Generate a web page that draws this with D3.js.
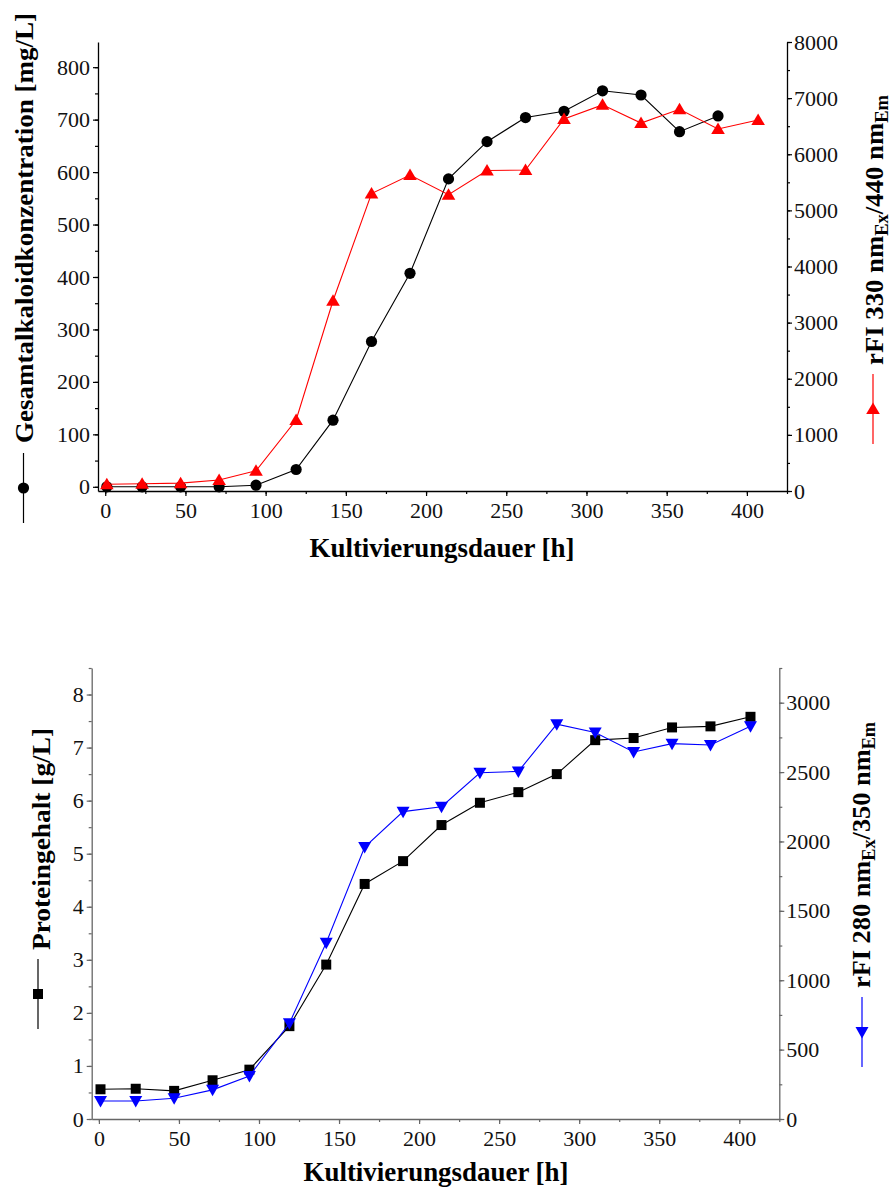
<!DOCTYPE html>
<html>
<head>
<meta charset="utf-8">
<script src="https://cdn.jsdelivr.net/npm/d3@7"></script>
<style>
  html, body { margin: 0; padding: 0; background: #fff; }
  svg { display: block; }
  text { font-family: "Liberation Serif", "Times New Roman", serif; }
</style>
</head>
<body>
<svg id="chart" width="892" height="1189"></svg>
<script>
// ---------- data ----------
const hours = [1, 23, 47, 71, 94, 119, 142, 166, 190, 214, 238, 262, 286, 310, 334, 358, 382, 407];
const alkaloid = [0, 0, 0, 0, 3, 33, 127, 277, 407, 587, 658, 704, 716, 755, 747, 677, 707]; // mg/L
const rfi330 = [120, 130, 140, 195, 360, 1265, 3390, 5300, 5630, 5280, 5710, 5720, 6630, 6880, 6555, 6800, 6450, 6610];
const protein = [0.56, 0.57, 0.53, 0.73, 0.93, 1.75, 2.91, 4.43, 4.86, 5.54, 5.96, 6.16, 6.50, 7.14, 7.18, 7.38, 7.40, 7.58]; // g/L
const rfi280 = [130, 130, 150, 210, 310, 690, 1270, 1960, 2215, 2250, 2495, 2505, 2845, 2785, 2645, 2705, 2695, 2830];

const xTicks = [0, 50, 100, 150, 200, 250, 300, 350, 400];
const alkTicks = [0, 100, 200, 300, 400, 500, 600, 700, 800];
const rfi330Ticks = [0, 1000, 2000, 3000, 4000, 5000, 6000, 7000, 8000];
const protTicks = [0, 1, 2, 3, 4, 5, 6, 7, 8];
const rfi280Ticks = [0, 500, 1000, 1500, 2000, 2500, 3000];

const xTitle = "Kultivierungsdauer [h]";
const alkTitle = "Gesamtalkaloidkonzentration [mg/L]";
const protTitle = "Proteingehalt [g/L]";

const svg = d3.select("#chart");
const fmt = d3.format("d");

function styleAxis(g, color) {
  g.attr("font-family", null).attr("font-size", null);
  g.selectAll("path.domain").attr("stroke", color).attr("stroke-width", 1.3);
  g.selectAll("line").attr("stroke", color).attr("stroke-width", 1.2);
  g.selectAll("text").attr("fill", "#111").style("font-family", '"Liberation Serif", serif').style("font-size", "22px");
}

function minorTicks(step, domain) {
  const out = [];
  const start = Math.ceil(domain[0] / step) * step;
  for (let v = start; v <= domain[1] + 1e-9; v += step) out.push(+v.toFixed(6));
  return out;
}

function drawPanel(cfg) {
  const x = d3.scaleLinear().domain(cfg.xDomain).range([cfg.left, cfg.right]);
  const yL = d3.scaleLinear().domain(cfg.yLDomain).range([cfg.bottom, cfg.top]);
  const yR = d3.scaleLinear().domain(cfg.yRDomain).range([cfg.bottom, cfg.top]);
  const g = svg.append("g");

  // minor ticks
  g.append("g").attr("transform", `translate(0,${cfg.bottom})`)
    .call(d3.axisBottom(x).tickValues(minorTicks(25, cfg.xDomain)).tickSize(3).tickSizeOuter(0).tickFormat(""))
    .call(a => { styleAxis(a, cfg.axisColor); a.select("path.domain").remove(); });
  g.append("g").attr("transform", `translate(${cfg.left},0)`)
    .call(d3.axisLeft(yL).tickValues(minorTicks(cfg.yLMinor, [0, cfg.yLDomain[1]])).tickSize(3).tickSizeOuter(0).tickFormat(""))
    .call(a => { styleAxis(a, cfg.axisColor); a.select("path.domain").remove(); });
  g.append("g").attr("transform", `translate(${cfg.right},0)`)
    .call(d3.axisRight(yR).tickValues(minorTicks(cfg.yRMinor, [0, cfg.yRDomain[1]])).tickSize(3).tickSizeOuter(0).tickFormat(""))
    .call(a => { styleAxis(a, cfg.axisColor); a.select("path.domain").remove(); });

  // major axes
  g.append("g").attr("transform", `translate(0,${cfg.bottom})`)
    .call(d3.axisBottom(x).tickValues(xTicks).tickFormat(fmt).tickSize(5).tickSizeOuter(0).tickPadding(cfg.xPad))
    .call(a => styleAxis(a, cfg.axisColor));
  g.append("g").attr("transform", `translate(${cfg.left},0)`)
    .call(d3.axisLeft(yL).tickValues(cfg.yLTicks).tickFormat(fmt).tickSize(5).tickSizeOuter(0).tickPadding(3))
    .call(a => styleAxis(a, cfg.axisColor));
  g.append("g").attr("transform", `translate(${cfg.right},0)`)
    .call(d3.axisRight(yR).tickValues(cfg.yRTicks).tickFormat(fmt).tickSize(5).tickSizeOuter(0).tickPadding(2))
    .call(a => styleAxis(a, cfg.axisColor));

  // series
  cfg.series.forEach(s => {
    const pts = s.values.map((v, i) => [x(hours[i]), s.axis === "L" ? yL(v) : yR(v)]);
    g.append("path").attr("d", d3.line()(pts)).attr("fill", "none")
      .attr("stroke", s.color).attr("stroke-width", 1.1);
    g.selectAll(null).data(pts).join("path")
      .attr("d", d => s.marker(d[0], d[1])).attr("fill", s.color);
  });

  // x title
  g.append("text").attr("x", cfg.xTitleX).attr("y", cfg.xTitleY).attr("text-anchor", "middle")
    .attr("textLength", cfg.xTitleLen).attr("lengthAdjust", "spacingAndGlyphs")
    .style("font-size", "28px").style("font-weight", "bold").attr("fill", "#000").text(xTitle);

  // left title (rotated) + legend symbol
  g.append("text").attr("transform", `translate(${cfg.lTitleX},${cfg.lTitleY}) rotate(-90)`)
    .attr("text-anchor", "middle").attr("textLength", cfg.lTitleLen).attr("lengthAdjust", "spacingAndGlyphs")
    .style("font-size", "26px").style("font-weight", "bold").attr("fill", "#000").text(cfg.lTitle);
  g.append("line").attr("x1", cfg.lLegX).attr("x2", cfg.lLegX).attr("y1", cfg.lLegY - 35).attr("y2", cfg.lLegY + 35)
    .attr("stroke", "#000").attr("stroke-width", 1.2);
  g.append("path").attr("d", cfg.series[0].marker(cfg.lLegX, cfg.lLegY)).attr("fill", "#000");

  // right title (rotated with subscripts) + legend symbol
  const rt = g.append("text").attr("transform", `translate(${cfg.rTitleX},${cfg.rTitleY}) rotate(-90)`)
    .attr("text-anchor", "middle").attr("textLength", cfg.rTitleLen).attr("lengthAdjust", "spacingAndGlyphs")
    .style("font-size", "26px").style("font-weight", "bold").attr("fill", "#000");
  rt.append("tspan").text(cfg.rTitleParts[0]);
  rt.append("tspan").attr("baseline-shift", "-25%").style("font-size", "18px").text("Ex");
  rt.append("tspan").text(cfg.rTitleParts[1]);
  rt.append("tspan").attr("baseline-shift", "-25%").style("font-size", "18px").text("Em");
  g.append("line").attr("x1", cfg.rLegX).attr("x2", cfg.rLegX).attr("y1", cfg.rLegY - 35).attr("y2", cfg.rLegY + 35)
    .attr("stroke", cfg.series[1].color).attr("stroke-width", 1.2);
  g.append("path").attr("d", cfg.series[1].marker(cfg.rLegX, cfg.rLegY)).attr("fill", cfg.series[1].color);
}

const circle = (x, y) => `M${x + 5.6},${y}A5.6,5.6 0 1,1 ${x - 5.6},${y}A5.6,5.6 0 1,1 ${x + 5.6},${y}Z`;
const triUp = (x, y) => `M${x - 6.8},${y + 5}L${x + 6.8},${y + 5}L${x},${y - 6.5}Z`;
const square = (x, y) => `M${x - 5},${y - 5}h10v10h-10Z`;
const triDown = (x, y) => `M${x - 6.5},${y - 5}L${x + 6.5},${y - 5}L${x},${y + 6.5}Z`;

drawPanel({
  xDomain: [-4.5, 425], left: 98, right: 787, top: 42, bottom: 491,
  yLDomain: [-8, 848], yRDomain: [0, 8000], yLTicks: alkTicks, yRTicks: rfi330Ticks,
  yLMinor: 50, yRMinor: 500, axisColor: "#000", xPad: 6,
  series: [
    { values: alkaloid, axis: "L", color: "#000", marker: circle },
    { values: rfi330, axis: "R", color: "#ff0000", marker: triUp }
  ],
  xTitleX: 442, xTitleY: 557, xTitleLen: 265,
  lTitle: alkTitle, lTitleX: 33, lTitleY: 228, lTitleLen: 430, lLegX: 23.5, lLegY: 488,
  rTitleParts: ["rFI 330 nm", "/440 nm"], rTitleX: 883, rTitleY: 230, rTitleLen: 270, rLegX: 873, rLegY: 409
});

drawPanel({
  xDomain: [-4.5, 425], left: 91.7, right: 779.3, top: 668, bottom: 1119,
  yLDomain: [0, 8.5], yRDomain: [0, 3250], yLTicks: protTicks, yRTicks: rfi280Ticks,
  yLMinor: 0.5, yRMinor: 250, axisColor: "#666", xPad: 6,
  series: [
    { values: protein, axis: "L", color: "#000", marker: square },
    { values: rfi280, axis: "R", color: "#0000ff", marker: triDown }
  ],
  xTitleX: 436, xTitleY: 1181, xTitleLen: 265,
  lTitle: protTitle, lTitleX: 50, lTitleY: 839, lTitleLen: 222, lLegX: 38, lLegY: 994,
  rTitleParts: ["rFI 280 nm", "/350 nm"], rTitleX: 870, rTitleY: 855, rTitleLen: 266, rLegX: 862, rLegY: 1032
});
</script>
</body>
</html>
